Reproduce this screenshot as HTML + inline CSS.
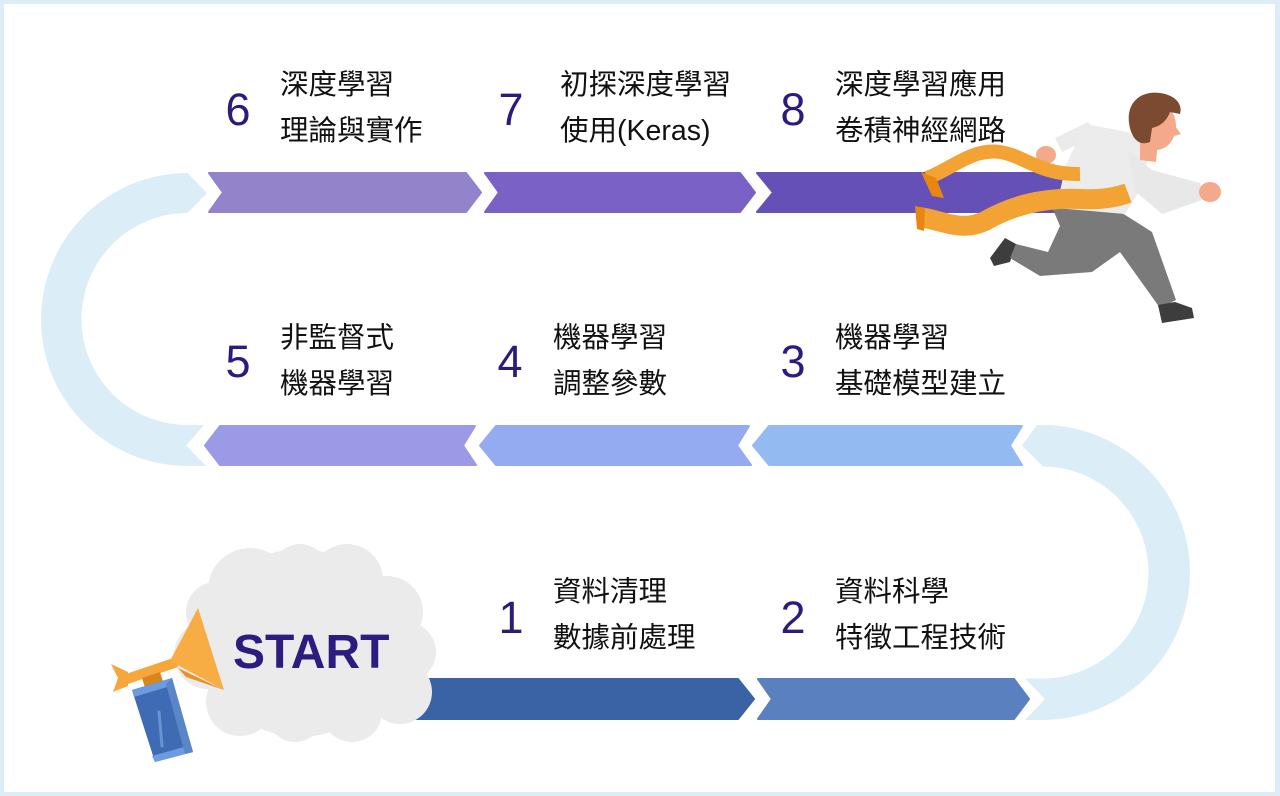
<!DOCTYPE html>
<html><head><meta charset="utf-8">
<style>
html,body{margin:0;padding:0;background:#fff;}
svg{display:block;}
.n{font-family:"Liberation Sans",sans-serif;font-size:45px;fill:#2c1a7c;text-anchor:middle;}
.t{font-family:"Liberation Sans","Noto Sans CJK TC",sans-serif;font-size:28.5px;fill:#111;}
</style></head>
<body>
<svg width="1280" height="796" viewBox="0 0 1280 796" xmlns="http://www.w3.org/2000/svg">
<rect x="0" y="0" width="1280" height="796" fill="#dcedf7"/>
<rect x="4" y="4" width="1271" height="788" fill="#ffffff"/>

<!-- arcs -->
<path d="M187.5,173 L207,193 L187.5,213 A106,106 0 0 0 187.5,425 L204,425 L186,445.5 L206,466 L187.5,466 A146.5,146.5 0 0 1 187.5,173 Z" fill="#dbedf7"/>
<path d="M1037,425 L1042.5,425 A147.5,147.5 0 0 1 1042.5,720 L1025,720 L1045,699 L1025,678.5 L1042.5,678.5 A106,106 0 0 0 1042.5,466.5 L1043,466.5 L1022,445.5 Z" fill="#dbedf7"/>

<g stroke-linejoin="round" stroke-width="2">
<!-- row 1 -->
<polygon points="209,173 466,173 481,192.5 466,212 209,212 223,192.5" fill="#9283cb" stroke="#9283cb"/>
<polygon points="485,173 740,173 755,192.5 740,212 485,212 499,192.5" fill="#7a61c5" stroke="#7a61c5"/>
<polygon points="757,173 1080,173 1080,212 757,212 773,192.5" fill="#6450b7" stroke="#6450b7"/>
<!-- row 2 -->
<polygon points="205,445.5 220,426 475,426 463,445.5 476,465 220,465" fill="#9c9ae6" stroke="#9c9ae6"/>
<polygon points="480,445.5 496,426 749,426 737,445.5 751,465 496,465" fill="#94abf1" stroke="#94abf1"/>
<polygon points="753,445.5 769,426 1022,426 1010,445.5 1022,465 769,465" fill="#94bbf1" stroke="#94bbf1"/>
<!-- row 3 -->
<polygon points="395,679 738,679 754,699 738,719 395,719" fill="#3a63a5" stroke="#3a63a5"/>
<polygon points="758,679 1014,679 1029,699 1014,719 758,719 772,699" fill="#5a80bf" stroke="#5a80bf"/>
</g>

<!-- cloud -->
<g fill="#ebebeb">
<circle cx="300" cy="643" r="94"/>
<circle cx="250" cy="590" r="42"/>
<circle cx="300" cy="572" r="28"/>
<circle cx="347" cy="580" r="36"/>
<circle cx="387" cy="612" r="36"/>
<circle cx="406" cy="652" r="30"/>
<circle cx="400" cy="692" r="32"/>
<circle cx="352" cy="712" r="30"/>
<circle cx="295" cy="714" r="28"/>
<circle cx="240" cy="702" r="34"/>
<circle cx="208" cy="655" r="34"/>
<circle cx="216" cy="612" r="30"/>
</g>
<text x="233" y="668" font-family="Liberation Sans, sans-serif" font-weight="bold" font-size="48" fill="#2d1b7f">START</text>

<!-- horn -->
<polygon points="126,674 176,657 178,667 128,684" fill="#f5a73b"/>
<polygon points="111,664 128,672 128,686 113,692 118,678" fill="#f5a73b"/>
<polygon points="142,678 160,672 165,688 147,694" fill="#d9861c"/>
<polygon points="170,661 198,608 224,690" fill="#f7ad44"/>
<polygon points="178,668 224,690 186,677" fill="#e8922a"/>
<polygon points="132,690 172,678 193,752 155,762" fill="#3e6bb4"/>
<polygon points="132,690 172,678 174,685 134,697" fill="#6d9be0"/>
<polygon points="152,756 191,745 193,752 155,762" fill="#6d9be0"/>
<polygon points="172,678 193,752 185,754 166,684" fill="#5a86c8"/>
<line x1="159" y1="712" x2="162" y2="746" stroke="#6b93d3" stroke-width="3" stroke-linecap="round"/>

<!-- runner -->
<!-- back shoe -->
<polygon points="990,258 1005,238 1016,244 1010,262 994,266" fill="#3d3d3d"/>
<!-- pants -->
<path d="M1052,207 L1122,213 L1152,232 L1176,300 L1160,308 L1120,252 L1092,272 L1040,276 L1010,258 L1016,244 L1048,252 L1060,226 Z" fill="#7a7a7a"/>
<!-- front shoe -->
<polygon points="1158,305 1175,302 1192,308 1194,318 1162,323" fill="#3d3d3d"/>
<!-- back arm -->
<polygon points="1055,138 1088,122 1100,134 1062,152" fill="#ebebeb"/>
<ellipse cx="1046" cy="155" rx="10" ry="9" fill="#f4a98a"/>
<!-- torso -->
<path d="M1085,124 L1128,132 L1150,150 L1140,190 L1125,214 L1056,208 L1066,165 Z" fill="#ececec"/>
<!-- front arm -->
<polygon points="1128,150 1152,170 1200,183 1202,200 1162,214 1136,192" fill="#e8e8e8"/>
<ellipse cx="1210" cy="192" rx="11" ry="10" fill="#f4a98a"/>
<!-- neck & head -->
<polygon points="1140,140 1158,140 1156,162 1140,160" fill="#f4a98a"/>
<ellipse cx="1156" cy="126" rx="20" ry="24" fill="#f4a98a"/>
<polygon points="1172,122 1181,134 1174,136" fill="#f4a98a"/>
<path d="M1130,128 C1124,104 1140,90 1160,93 C1175,95 1183,104 1180,114 L1170,112 C1166,122 1160,126 1152,128 L1150,142 C1140,146 1133,140 1130,128 Z" fill="#7b4a30"/>
<!-- ribbons -->
<path d="M927,178 C950,170 972,148 1000,152 C1025,156 1040,175 1080,174" fill="none" stroke="#f2a333" stroke-width="14"/>
<polygon points="921,172 936,178 944,198 932,196" fill="#e8860f"/>
<path d="M918,217 C940,219 960,233 985,221 C1010,207 1040,197 1080,199 C1100,200 1115,198 1128,193" fill="none" stroke="#f2a333" stroke-width="20"/>
<polygon points="915,206 925,208 924,231 917,229" fill="#e8860f"/>

<!-- numbers -->
<text class="n" x="238" y="125">6</text>
<text class="n" x="511" y="125">7</text>
<text class="n" x="793" y="125">8</text>
<text class="n" x="238" y="377">5</text>
<text class="n" x="510" y="377">4</text>
<text class="n" x="793" y="377">3</text>
<text class="n" x="511" y="633">1</text>
<text class="n" x="793" y="633">2</text>

<!-- labels -->
<text class="t" x="280" y="94">深度學習</text>
<text class="t" x="280" y="140">理論與實作</text>
<text class="t" x="560" y="94">初探深度學習</text>
<text class="t" x="560" y="140">使用(Keras)</text>
<text class="t" x="835" y="94">深度學習應用</text>
<text class="t" x="835" y="140">卷積神經網路</text>

<text class="t" x="280" y="347">非監督式</text>
<text class="t" x="280" y="393">機器學習</text>
<text class="t" x="553" y="347">機器學習</text>
<text class="t" x="553" y="393">調整參數</text>
<text class="t" x="835" y="347">機器學習</text>
<text class="t" x="835" y="393">基礎模型建立</text>

<text class="t" x="553" y="601">資料清理</text>
<text class="t" x="553" y="647">數據前處理</text>
<text class="t" x="835" y="601">資料科學</text>
<text class="t" x="835" y="647">特徵工程技術</text>
</svg>
</body></html>
